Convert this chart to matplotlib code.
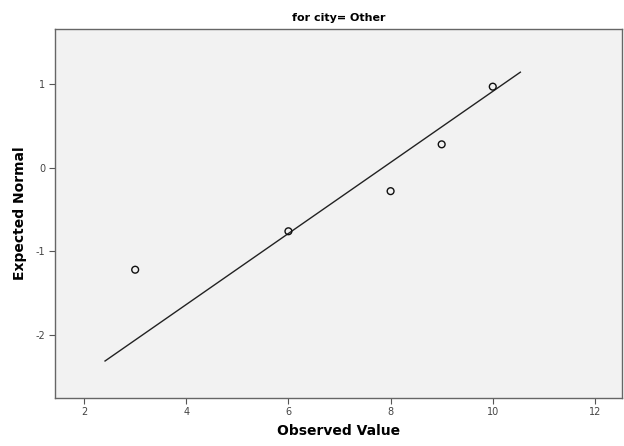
import matplotlib
matplotlib.use("Agg")
import matplotlib.pyplot as plt
import numpy as np

plt.rcParams['axes.unicode_minus'] = False
plt.rcParams['font.family'] = ['DejaVu Sans']

# observed values and their expected normal scores
observed = [3, 6, 8, 9, 10]
expected = [-1.22, -0.76, -0.28, 0.28, 0.97]

# reference line: y = (x - mean) / sd
line_mean = 7.85
line_sd = 2.353
line_x = [2.41, 10.54]

xticks = [2, 4, 6, 8, 10, 12]
yticks = [-2, -1, 0, 1]

fig = plt.figure(figsize=(6.24, 4.46), dpi=100)
ax = fig.add_axes([0.0881, 0.1085, 0.9087, 0.8265])
ax.set_facecolor('#f2f2f2')

lx = np.array(line_x)
ax.plot(lx, (lx - line_mean) / line_sd, color='#222222', lw=1.0)
ax.scatter(observed, expected, s=24, facecolors='none', edgecolors='#111111',
           linewidths=1.0, zorder=3)

ax.set_xlim(1.43, 12.53)
ax.set_ylim(-2.75, 1.66)
ax.set_xticks(xticks)
ax.set_yticks(yticks)
ax.tick_params(direction='out', length=4, width=0.8, color='#555555',
               labelsize=7, labelcolor='#444444', pad=3)
for s in ax.spines.values():
    s.set_color('#666666')
    s.set_linewidth(1.0)

ax.set_title('for city= Other', fontsize=8, fontweight='bold', pad=6)
ax.set_xlabel('Observed Value', fontsize=10, fontweight='bold', labelpad=5)
ax.set_ylabel('Expected Normal', fontsize=10, fontweight='bold', labelpad=6)

fig.savefig('out.png', dpi=100)
